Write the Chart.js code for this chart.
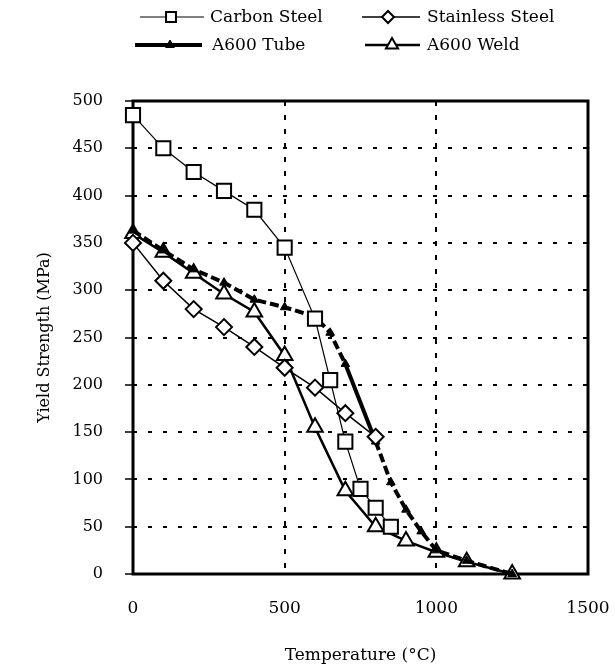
<!DOCTYPE html>
<html lang="en">
<head>
  <meta charset="UTF-8" />
  <title>Yield Strength vs Temperature</title>
  <script src="https://cdn.jsdelivr.net/npm/chart.js"></script>
  <style>
    html, body {
      margin: 0;
      background: #ffffff;
    }

    #wrap {
      width: 615px;
      height: 671px;
    }
  </style>
</head>
<body>
  <div id="wrap"><canvas id="grafico"></canvas></div>

  <script>
    // values (temperature in °C, strength in MPa)
    const carbonTemp = [0, 100, 200, 300, 400, 500, 600, 650, 700, 750, 800, 850];
    const carbonYield = [485, 450, 425, 405, 385, 345, 270, 205, 140, 90, 70, 50];

    const stainlessTemp = [0, 100, 200, 300, 400, 500, 600, 700, 800];
    const stainlessYield = [350, 310, 280, 261, 240, 218, 197, 170, 145];

    const tubeTemp = [0, 100, 200, 300, 400, 500, 600, 650, 700, 800, 850, 900, 950, 1000, 1100, 1250];
    const tubeYield = [363, 342, 322, 308, 290, 282, 272, 255, 222, 140, 97, 68, 45, 25, 14, 0];

    const weldTemp = [0, 100, 200, 300, 400, 500, 600, 700, 800, 900, 1000, 1100, 1250];
    const weldYield = [360, 340, 318, 296, 277, 231, 155, 88, 50, 35, 23, 13, 0];

    const xTicks = [0, 500, 1000, 1500];
    const yTicks = [0, 50, 100, 150, 200, 250, 300, 350, 400, 450, 500];

    const seriesNames = ['Carbon Steel', 'Stainless Steel', 'A600 Tube', 'A600 Weld'];

    const pairs = (xs, ys) => xs.map((x, i) => ({ x, y: ys[i] }));
    const serif = 'DejaVu Serif';

    // thick box around the plot
    const frame = {
      id: 'frame',
      beforeDatasetsDraw(chart) {
        const { ctx, chartArea: a } = chart;
        ctx.save();
        ctx.lineWidth = 3;
        ctx.strokeStyle = '#000';
        ctx.strokeRect(a.left, a.top, a.right - a.left, a.bottom - a.top);
        ctx.restore();
      }
    };

    // two-by-two legend at the top
    const legendSpots = [
      { x1: 140, x2: 204, mx: 171, tx: 210, y: 17, r: 7 },
      { x1: 362, x2: 420, mx: 388, tx: 427, y: 17, r: 6 },
      { x1: 135, x2: 202, mx: 170, tx: 212, y: 45, r: 5 },
      { x1: 365, x2: 420, mx: 392, tx: 427, y: 45, r: 7 }
    ];

    const legendBox = {
      id: 'legendBox',
      afterDraw(chart) {
        const ctx = chart.ctx;
        chart.data.datasets.forEach((ds, i) => {
          const s = legendSpots[i];
          ctx.save();
          ctx.strokeStyle = '#000';
          ctx.lineWidth = ds.borderWidth;
          ctx.beginPath();
          ctx.moveTo(s.x1, s.y);
          ctx.lineTo(s.x2, s.y);
          ctx.stroke();
          ctx.fillStyle = ds.pointBackgroundColor;
          ctx.lineWidth = ds.pointBorderWidth;
          if (Chart.helpers && Chart.helpers.drawPoint) {
            Chart.helpers.drawPoint(ctx, {
              pointStyle: ds.pointStyle,
              radius: s.r,
              rotation: 0,
              borderWidth: ds.pointBorderWidth
            }, s.mx, s.y);
          }
          ctx.fillStyle = '#000';
          ctx.font = '17px "' + serif + '"';
          ctx.textBaseline = 'middle';
          ctx.textAlign = 'left';
          ctx.fillText(ds.label, s.tx, s.y + 1);
          ctx.restore();
        });
      }
    };

    new Chart(document.getElementById('grafico'), {
      type: 'line',
      data: {
        datasets: [
          {
            label: seriesNames[0],
            data: pairs(carbonTemp, carbonYield),
            borderColor: '#000',
            borderWidth: 1.2,
            pointStyle: 'rect',
            pointRadius: 10,
            pointBackgroundColor: '#fff',
            pointBorderColor: '#000',
            pointBorderWidth: 2,
            fill: false,
            tension: 0,
            clip: false
          },
          {
            label: seriesNames[1],
            data: pairs(stainlessTemp, stainlessYield),
            borderColor: '#000',
            borderWidth: 1.5,
            pointStyle: 'rectRot',
            pointRadius: 8,
            pointBackgroundColor: '#fff',
            pointBorderColor: '#000',
            pointBorderWidth: 2,
            fill: false,
            tension: 0,
            clip: false
          },
          {
            label: seriesNames[2],
            data: pairs(tubeTemp, tubeYield),
            borderColor: '#000',
            borderWidth: 4,
            borderDash: [9, 4],
            segment: {
              borderDash: c => (c.p0.parsed.x === 700 ? [] : [9, 4])
            },
            pointStyle: 'triangle',
            pointRadius: 5,
            pointBackgroundColor: '#000',
            pointBorderColor: '#000',
            pointBorderWidth: 1,
            fill: false,
            tension: 0,
            clip: false
          },
          {
            label: seriesNames[3],
            data: pairs(weldTemp, weldYield),
            borderColor: '#000',
            borderWidth: 2.5,
            pointStyle: 'triangle',
            pointRadius: 9,
            pointBackgroundColor: '#fff',
            pointBorderColor: '#000',
            pointBorderWidth: 2,
            fill: false,
            tension: 0,
            clip: false
          }
        ]
      },
      options: {
        responsive: true,
        maintainAspectRatio: false,
        animation: false,
        layout: { padding: { top: 101, right: 27, left: 0, bottom: 0 } },
        plugins: {
          legend: { display: false },
          tooltip: { enabled: false }
        },
        scales: {
          x: {
            type: 'linear',
            min: xTicks[0],
            max: xTicks[xTicks.length - 1],
            afterBuildTicks: s => { s.ticks = xTicks.map(v => ({ value: v })); },
            ticks: {
              color: '#000',
              font: { family: serif, size: 17 },
              padding: 24,
              maxRotation: 0,
              callback: v => String(v)
            },
            grid: { color: '#000', lineWidth: 2, drawTicks: false },
            border: { display: false, dash: [5, 9] },
            title: {
              display: true,
              text: 'Temperature (°C)',
              color: '#000',
              font: { family: serif, size: 17 },
              padding: { top: 0, bottom: 5 }
            },
            afterFit: s => {
              s.height = 97;
              s.paddingLeft = 0;
              s.paddingRight = 0;
            }
          },
          y: {
            min: yTicks[0],
            max: yTicks[yTicks.length - 1],
            afterBuildTicks: s => { s.ticks = yTicks.map(v => ({ value: v })); },
            ticks: {
              color: '#000',
              font: { family: serif, size: 16 },
              padding: 22,
              callback: v => String(v)
            },
            grid: {
              color: '#000',
              lineWidth: 2,
              tickLength: 8,
              tickColor: '#000',
              tickWidth: 1.5,
              tickBorderDash: []
            },
            border: { display: false, dash: [4, 11] },
            title: {
              display: true,
              text: 'Yield Strength (MPa)',
              color: '#000',
              font: { family: serif, size: 16 },
              padding: { top: 35, bottom: 0 }
            },
            afterFit: s => { s.width = 133; }
          }
        }
      },
      plugins: [frame, legendBox]
    });
  </script>
</body>
</html>
